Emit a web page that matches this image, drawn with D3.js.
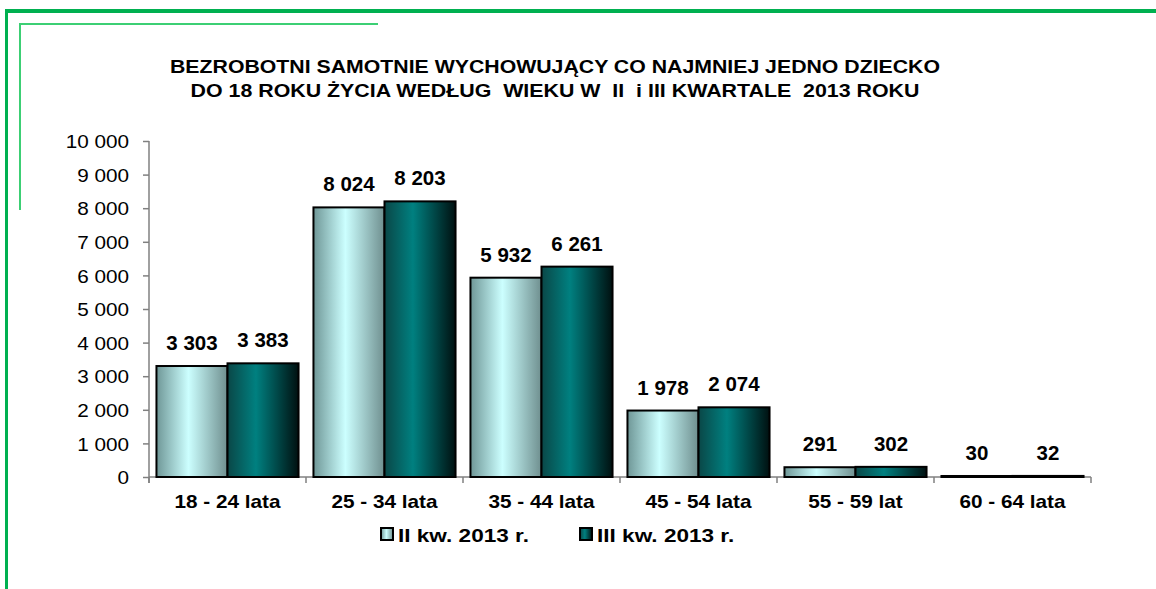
<!DOCTYPE html>
<html>
<head>
<meta charset="utf-8">
<script src="https://cdn.jsdelivr.net/npm/d3@7"></script>
<style>
    body { margin: 0; background: #fff; }
    svg { display: block; font-family: "Liberation Sans", Arial, sans-serif; }
    text { white-space: pre; }
</style>
</head>
<body>
<svg width="1156" height="589"></svg>
<script>
const categories = ['18 - 24 lata', '25 - 34 lata', '35 - 44 lata', '45 - 54 lata', '55 - 59 lat', '60 - 64 lata'];
const seriesNames = ['II kw. 2013 r.', 'III kw. 2013 r.'];
const q2 = [3303, 8024, 5932, 1978, 291, 30];
const q3 = [3383, 8203, 6261, 2074, 302, 32];
const yTicks = [0, 1000, 2000, 3000, 4000, 5000, 6000, 7000, 8000, 9000, 10000];
const titleLines = [
    'BEZROBOTNI SAMOTNIE WYCHOWUJĄCY CO NAJMNIEJ JEDNO DZIECKO',
    'DO 18 ROKU ŻYCIA WEDŁUG  WIEKU W  II  i III KWARTALE  2013 ROKU'
];

const thisSVG = d3.select('svg');
const fmt = v => d3.format(',')(v).replace(/,/g, ' ');

// gradients for the 3d-ish bars
const defs = thisSVG.append('defs');
const grads = [
    { id: 'g0', stops: [['0%', '#6f9797'], ['45%', '#ccffff'], ['100%', '#6f8f8f']] },
    { id: 'g1', stops: [['0%', '#0a4747'], ['40%', '#008080'], ['100%', '#001010']] }
];
grads.forEach(g => {
    const lg = defs.append('linearGradient').attr('id', g.id)
        .attr('x1', '0%').attr('x2', '100%').attr('y1', '0%').attr('y2', '0%');
    g.stops.forEach(s => lg.append('stop').attr('offset', s[0]).attr('stop-color', s[1]));
});

// green frame
thisSVG.append('line').attr('x1', 5).attr('x2', 1156).attr('y1', 11).attr('y2', 11)
    .attr('stroke', '#00b050').attr('stroke-width', 4);
thisSVG.append('line').attr('x1', 6.5).attr('x2', 6.5).attr('y1', 9).attr('y2', 589)
    .attr('stroke', '#00b050').attr('stroke-width', 3);
thisSVG.append('line').attr('x1', 19).attr('x2', 378).attr('y1', 24).attr('y2', 24)
    .attr('stroke', '#3ccf74').attr('stroke-width', 2);
thisSVG.append('line').attr('x1', 20).attr('x2', 20).attr('y1', 23).attr('y2', 210)
    .attr('stroke', '#3ccf74').attr('stroke-width', 2);

// title
thisSVG.selectAll('.title').data(titleLines).join('text')
    .attr('class', 'title')
    .attr('x', 555).attr('y', (d, i) => 73 + i * 24)
    .attr('text-anchor', 'middle')
    .style('font-size', '18.5px').style('font-weight', 'bold')
    .attr('textLength', (d, i) => i === 0 ? 770 : 729)
    .attr('lengthAdjust', 'spacingAndGlyphs')
    .text(d => d);

const x0 = d3.scaleBand().domain(categories).range([149, 1091]);
const x1 = d3.scaleBand().domain([0, 1]).range([0, x0.bandwidth()]).paddingOuter(0.105);
const y = d3.scaleLinear().domain([0, 10000]).range([477, 141]);

// axes
const yAxis = thisSVG.append('g').attr('transform', 'translate(149,0)')
    .call(d3.axisLeft(y).tickValues(yTicks).tickFormat(fmt).tickSize(6).tickPadding(14));
const xAxis = thisSVG.append('g').attr('transform', 'translate(0,477)')
    .call(d3.axisBottom(x0).tickSize(0).tickPadding(0));
xAxis.selectAll('.tick text').remove();
xAxis.selectAll('.bnd').data(d3.range(categories.length + 1)).join('line')
    .attr('x1', i => 149 + i * x0.bandwidth()).attr('x2', i => 149 + i * x0.bandwidth())
    .attr('y1', 0).attr('y2', 6);
[yAxis, xAxis].forEach(a => {
    a.select('.domain').attr('stroke', '#808080').attr('stroke-width', 1.5);
    a.selectAll('line').attr('stroke', '#808080').attr('stroke-width', 1.5);
});
yAxis.select('.domain').attr('d', 'M0,141V483');
xAxis.select('.domain').attr('d', 'M149,0H1091');
yAxis.selectAll('.tick text')
    .attr('fill', '#000').style('font-size', '18.5px').attr('font-family', null)
    .attr('dy', '0.36em').attr('class', 'stretch');

// bars
const rows = categories.map((c, i) => ({ cat: c, vals: [q2[i], q3[i]] }));
const groups = thisSVG.selectAll('.grp').data(rows).join('g')
    .attr('class', 'grp')
    .attr('transform', d => `translate(${x0(d.cat)},0)`);
groups.selectAll('rect').data(d => d.vals).join('rect')
    .attr('x', (d, i) => x1(i)).attr('width', x1.bandwidth())
    .attr('y', d => y(d)).attr('height', d => Math.max(y(0) - y(d), 1))
    .attr('fill', (d, i) => `url(#g${i})`)
    .attr('stroke', '#000').attr('stroke-width', 2);
groups.selectAll('.val').data(d => d.vals).join('text')
    .attr('class', 'val')
    .attr('x', (d, i) => x1(i) + x1.bandwidth() / 2)
    .attr('y', d => y(d) - 16)
    .attr('text-anchor', 'middle')
    .style('font-size', '20.5px').style('font-weight', 'bold')
    .text(d => fmt(d));

// category labels
thisSVG.selectAll('.cat').data(categories).join('text')
    .attr('class', 'cat stretch')
    .attr('x', d => x0(d) + x0.bandwidth() / 2).attr('y', 508)
    .attr('text-anchor', 'middle')
    .style('font-size', '18.5px').style('font-weight', 'bold')
    .text(d => d);

// legend
const legendX = [381, 580];
const leg = thisSVG.selectAll('.leg').data(seriesNames).join('g')
    .attr('class', 'leg')
    .attr('transform', (d, i) => `translate(${legendX[i]},528)`);
leg.append('rect').attr('width', 12).attr('height', 12)
    .attr('fill', (d, i) => `url(#g${i})`).attr('stroke', '#000').attr('stroke-width', 2);
leg.append('text').attr('class', 'wide')
    .attr('x', 17).attr('y', 13.5)
    .style('font-size', '18.5px').style('font-weight', 'bold')
    .text(d => d);

// the source picture is a bit wider than tall: stretch the labels sideways
thisSVG.selectAll('.stretch').each(function () {
    const w = this.getComputedTextLength();
    d3.select(this).attr('textLength', w * 1.12).attr('lengthAdjust', 'spacingAndGlyphs');
});
thisSVG.selectAll('.wide').each(function () {
    const w = this.getComputedTextLength();
    d3.select(this).attr('textLength', w * 1.22).attr('lengthAdjust', 'spacingAndGlyphs');
});
</script>
</body>
</html>
